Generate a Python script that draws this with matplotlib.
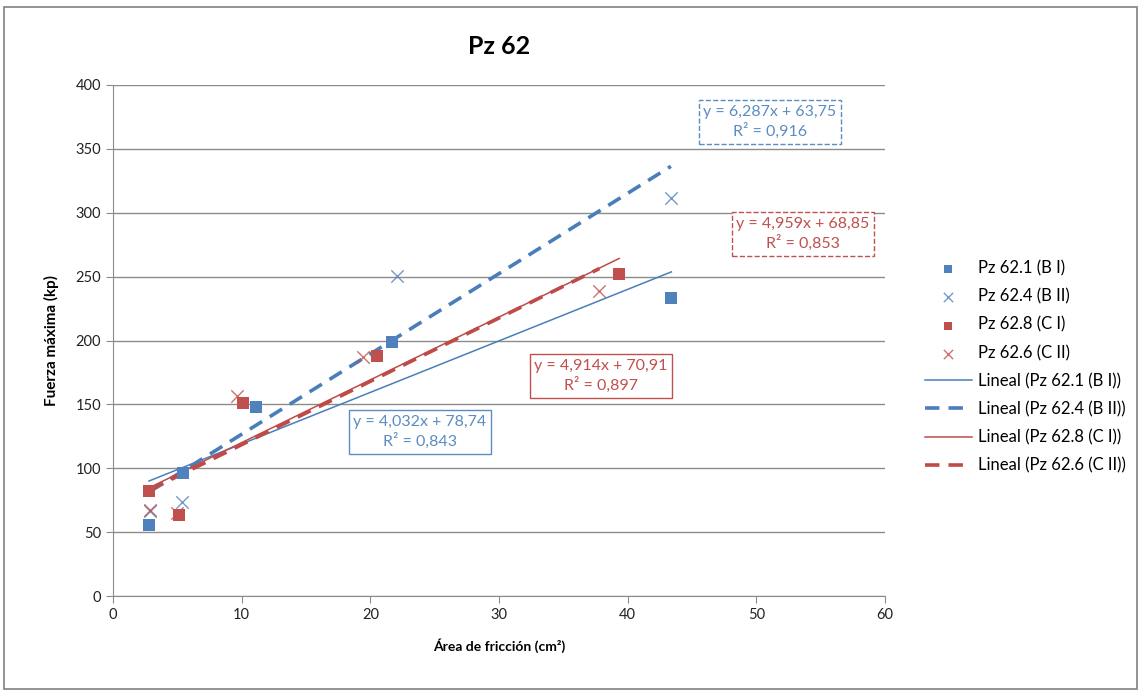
import matplotlib
matplotlib.use("Agg")
import matplotlib.pyplot as plt
from matplotlib.patches import Rectangle
import numpy as np

plt.rcParams['font.family'] = ['Lato', 'DejaVu Sans']

# ---- data ----
series_names = ["Pz 62.1 (B I)", "Pz 62.4 (B II)", "Pz 62.8 (C I)", "Pz 62.6 (C II)"]
x_b1 = [2.8, 5.46, 11.09, 21.68, 43.4]
y_b1 = [55.6, 96.5, 148.2, 198.8, 233.0]
x_b2 = [2.9, 5.36, 22.04, 43.36]
y_b2 = [66.8, 73.8, 250.5, 311.3]
x_c1 = [2.8, 5.13, 10.13, 20.49, 39.34]
y_c1 = [82.4, 63.4, 151.3, 187.9, 251.8]
x_c2 = [2.9, 4.95, 9.6, 19.45, 37.8]
y_c2 = [67.0, 65.2, 156.5, 187.3, 238.7]

# trendline coefficients as printed in the chart
slopes = [4.032, 6.287, 4.914, 4.959]
intercepts = [78.74, 63.75, 70.91, 68.85]
r2 = ["0,843", "0,916", "0,897", "0,853"]
eq_labels = ["y = 4,032x + 78,74", "y = 6,287x + 63,75", "y = 4,914x + 70,91", "y = 4,959x + 68,85"]

x_ticks = [0, 10, 20, 30, 40, 50, 60]
y_ticks = [0, 50, 100, 150, 200, 250, 300, 350, 400]

blue = "#4F81BD"
red = "#C0504D"
blue_line = "#4A7EBB"
red_line = "#BE4B48"
blue_txt = "#5B8DC2"
red_txt = "#C0504D"

fig = plt.figure(figsize=(11.42, 6.93), dpi=100)
fig.patches.append(Rectangle((4/1142, 1-689/693), 1133/1142, 682/693, transform=fig.transFigure,
                             fill=False, edgecolor="#808080", linewidth=1.2))
ax = fig.add_axes([113/1142, 1-596/693, (885-113)/1142, (596-85)/693])

xs = [x_b1, x_b2, x_c1, x_c2]
ys = [y_b1, y_b2, y_c1, y_c2]
mcolors = [blue, blue, red, red]
markers = ["s", "x", "s", "x"]
handles_pts = []
for i in range(4):
    if markers[i] == "s":
        h = ax.scatter(xs[i], ys[i], marker="s", s=70, color=mcolors[i], zorder=4, linewidths=0)
    else:
        h = ax.scatter(xs[i], ys[i], marker="x", s=80, color=mcolors[i], zorder=4, linewidths=1.0, alpha=0.8)
    handles_pts.append(h)

lcolors = [blue_line, blue_line, red_line, red_line]
lstyles = ["-", (0, (4, 2.5)), "-", (0, (4, 2.5))]
lwidths = [1.1, 2.6, 1.1, 2.6]
handles_lines = []
for i in range(4):
    xr = np.array([min(xs[i]), max(xs[i])])
    h, = ax.plot(xr, slopes[i]*xr + intercepts[i], color=lcolors[i], linestyle=lstyles[i],
                 linewidth=lwidths[i], zorder=3)
    handles_lines.append(h)

ax.set_xlim(0, 60)
ax.set_ylim(0, 400)
ax.set_xticks(x_ticks)
ax.set_yticks(y_ticks)
ax.yaxis.grid(True, color="#8c8c8c", linewidth=1.0)
ax.set_axisbelow(True)
for s in ["top", "right"]:
    ax.spines[s].set_visible(False)
for s in ["left", "bottom"]:
    ax.spines[s].set_color("#8c8c8c")
ax.tick_params(axis="both", colors="#8c8c8c", labelcolor="#222222", labelsize=10.5, length=5, direction="out")

ax.set_xlabel("Área de fricción (cm²)", fontsize=10, fontweight="bold", labelpad=12)
ax.set_ylabel("Fuerza máxima (kp)", fontsize=11, fontweight="bold", labelpad=12)
fig.text(499/1142, 1-47/693, "Pz 62", ha="center", va="center", fontsize=18, fontweight="bold")

# equation boxes
box_pos = [(420, 432), (770, 122), (601, 376), (803, 234)]
box_col = [blue_txt, blue_txt, red_txt, red_txt]
box_ls = ["-", "--", "-", "--"]
for i in range(4):
    fig.text(box_pos[i][0]/1142, 1-box_pos[i][1]/693, eq_labels[i] + "\nR² = " + r2[i],
             ha="center", va="center", fontsize=11.5, color=box_col[i], linespacing=1.35,
             bbox=dict(boxstyle="square,pad=0.3", facecolor="white", edgecolor=box_col[i],
                       linestyle=box_ls[i], linewidth=1.0))

labels = series_names + ["Lineal (" + n + ")" for n in series_names]
leg = fig.legend(handles_pts + handles_lines, labels, loc="center left",
                 bbox_to_anchor=(925/1142, 1-367/693), frameon=False, fontsize=12,
                 handlelength=2.8, labelspacing=0.72, handletextpad=0.4, markerscale=0.75,
                 borderpad=0, borderaxespad=0)

fig.savefig("out.png", dpi=100)
